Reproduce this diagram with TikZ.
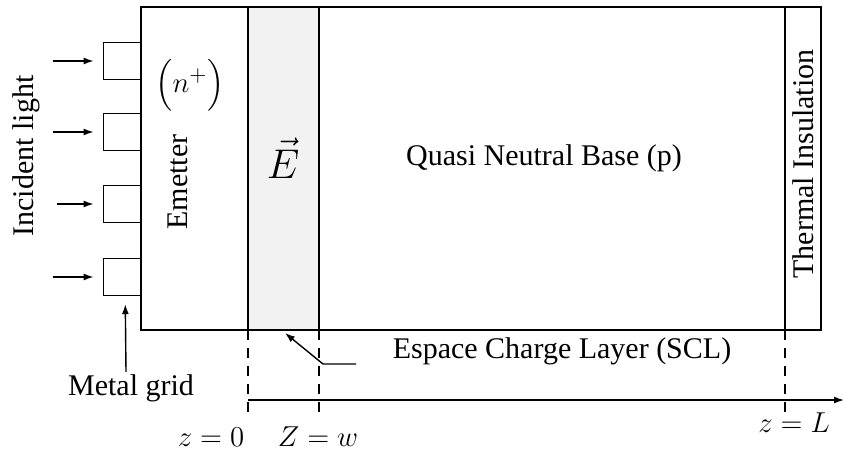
\documentclass[tikz,border=0pt]{standalone}
\usepackage{amsmath}
\usepackage{fontspec}
\setmainfont{Liberation Serif}
\usepackage{tikz}
\usetikzlibrary{arrows.meta, positioning, calc}

\begin{document}
\begin{tikzpicture}[x=0.5pt, y=-0.5pt,
    font=\fontsize{15}{18}\selectfont,
    wall/.style={draw, line width=0.7pt},
    gridbox/.style={draw, line width=0.7pt, minimum width=18.5pt, minimum height=18.5pt, inner sep=0pt},
    arr/.style={-{Latex[length=5pt, width=3.5pt]}, line width=0.7pt},
    guide/.style={line width=0.6pt, dash pattern=on 5pt off 4pt},
    label/.style={inner sep=1pt}]
    \useasboundingbox (0,0) rectangle (844,450);

    % layers of the cell
    \coordinate (tl) at (141,7);
    \coordinate (br) at (821,330);
    \coordinate (z0top) at (248,7);
    \coordinate (z0) at (248,330);
    \coordinate (wtop) at (319,7);
    \coordinate (w) at (319,330);
    \coordinate (Ltop) at (785,7);
    \coordinate (L) at (785,330);

    \fill[gray!10] (z0top) rectangle (w);
    \draw[wall] (tl) rectangle (br);
    \draw[wall] (z0top) -- (z0);
    \draw[wall] (wtop) -- (w);
    \draw[wall] (Ltop) -- (L);

    % metal grid and incident light
    \foreach \i/\y/\len in {1/61/41, 2/132/41, 3/204/37, 4/277/41} {
        \node[gridbox, anchor=east] (grid\i) at (141,\y) {};
        \coordinate (ray\i) at ($(grid\i.west)+(-9-\len,0)$);
        \draw[arr] (ray\i) -- ($(grid\i.west)+(-9,0)$);
    }

    \node[label, rotate=90] (light) at (26,156) {Incident light};
    \node[label] (metal) at (131,388) {Metal grid};
    \draw[arr] ([xshift=-2.5pt]metal.north) -- ([xshift=1.75pt, yshift=-4pt]grid4.south);

    % region labels
    \node[label] (nplus) at (190,85) {$\Bigl(n^{+}\Bigr)$};
    \node[label, rotate=90] (emitter) at (178,182) {Emetter};
    \node[label, font=\fontsize{21}{24}\selectfont] (efield) at (283,158) {$\vec{E}$};
    \node[label] (base) at (544,158) {Quasi Neutral Base (p)};
    \node[label, rotate=90] (insul) at (803,164) {Thermal Insulation};
    \node[label] (scl) at (562,351) {Espace Charge Layer (SCL)};

    \coordinate (lead) at (356,364);
    \draw[arr] (lead) -- (323,364) -- (285,333);

    % axis
    \coordinate (zend) at (844,400);
    \draw[guide] (z0) -- ++(0,85);
    \draw[guide] (w) -- ++(0,85);
    \draw[guide] (L) -- ++(0,85);
    \draw[arr] (z0 |- zend) -- (zend);

    \node[label] (zzero) at (211,437) {$z=0$};
    \node[label] (zw) at (318,437) {$Z=w$};
    \node[label] (zL) at (794,423) {$z=L$};
\end{tikzpicture}
\end{document}
